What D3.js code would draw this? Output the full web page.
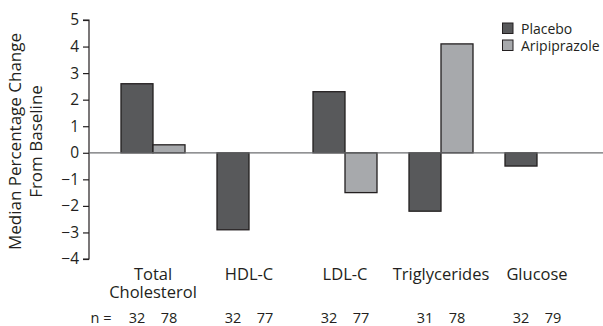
<!DOCTYPE html>
<html><head><meta charset="utf-8">
<script src="https://cdn.jsdelivr.net/npm/d3@7"></script>
<style>body{margin:0;background:#fff}svg{display:block}text{font-family:"Open Sans",sans-serif;fill:#231f20}</style>
</head><body><svg id="c" width="603" height="326"></svg>
<script>
const categories = ["Total\nCholesterol", "HDL-C", "LDL-C", "Triglycerides", "Glucose"];
const seriesNames = ["Placebo", "Aripiprazole"];
const placebo = [2.6, -2.9, 2.3, -2.2, -0.5];
const aripiprazole = [0.3, 0, -1.5, 4.1, 0];
const nPlacebo = [32, 32, 32, 31, 32];
const nAripiprazole = [78, 77, 77, 78, 79];
const yTicks = [5, 4, 3, 2, 1, 0, -1, -2, -3, -4];
const colors = ["#58595b", "#a7a9ac"];

const svg = d3.select("#c");
const y = d3.scaleLinear().domain([-4, 5]).range([259, 20]);
const x0 = d3.scaleBand().domain(categories).range([105, 585]).paddingInner(1/3).paddingOuter(1/6);
const x1 = d3.scaleBand().domain(seriesNames).range([0, x0.bandwidth()]);
const series = [placebo, aripiprazole];

// axis
const yAxis = d3.axisLeft(y).tickValues(yTicks).tickSize(6).tickPadding(4)
  .tickFormat(d => d < 0 ? "\u2212" + Math.abs(d) : d);
const ga = svg.append("g").attr("transform", "translate(89,0)").call(yAxis);
ga.select(".domain").attr("d", `M-6,${y(5)}H0V${y(-4)}H-6`).attr("stroke", "#231f20").attr("stroke-width", 1.2);
ga.selectAll(".tick line").attr("stroke", "#231f20").attr("stroke-width", 1.2);
ga.selectAll(".tick text").style("font-size", "15.5px").attr("fill", "#231f20").style("font-family", "'Open Sans',sans-serif");

// bars
categories.forEach((c, i) => {
  series.forEach((s, j) => {
    const v = s[i];
    if (v === 0) return;
    svg.append("rect")
      .attr("x", x0(c) + x1(seriesNames[j]))
      .attr("width", x1.bandwidth())
      .attr("y", y(Math.max(0, v)))
      .attr("height", Math.abs(y(v) - y(0)))
      .attr("fill", colors[j]).attr("stroke", "#231f20").attr("stroke-width", 1.3);
  });
});

// zero line
svg.append("line").attr("x1", 89).attr("x2", 603).attr("y1", y(0)).attr("y2", y(0))
  .attr("stroke", "#6d6e71").attr("stroke-width", 1.3);

// category labels
categories.forEach((c, i) => {
  const cx = x0(c) + x0.bandwidth() / 2;
  c.split("\n").forEach((l, k) => {
    svg.append("text").attr("text-anchor", "middle").style("font-size", "16.5px")
      .attr("x", cx).attr("y", 280 + k * 18).text(l);
  });
  svg.append("text").attr("text-anchor", "middle").style("font-size", "14.5px")
    .attr("x", x0(c) + x1(seriesNames[0]) + x1.bandwidth() / 2).attr("y", 323).text(nPlacebo[i]);
  svg.append("text").attr("text-anchor", "middle").style("font-size", "14.5px")
    .attr("x", x0(c) + x1(seriesNames[1]) + x1.bandwidth() / 2).attr("y", 323).text(nAripiprazole[i]);
});
svg.append("text").attr("text-anchor", "middle").style("font-size", "14.5px").attr("x", 101).attr("y", 323).text("n =");

// y title
const tcy = (y(5) + y(-4)) / 2 + 2;
svg.append("text").attr("text-anchor", "middle").style("font-size", "17px")
  .attr("transform", `translate(21,${tcy}) rotate(-90)`).text("Median Percentage Change");
svg.append("text").attr("text-anchor", "middle").style("font-size", "17px")
  .attr("transform", `translate(42,${tcy}) rotate(-90)`).text("From Baseline");

// legend
seriesNames.forEach((n, j) => {
  svg.append("rect").attr("x", 502.5).attr("y", 23 + j * 17).attr("width", 10.5).attr("height", 10.5)
    .attr("fill", colors[j]).attr("stroke", "#231f20").attr("stroke-width", 1);
  svg.append("text").attr("x", 521).attr("y", 34 + j * 17).style("font-size", "14px").text(n);
});
</script></body></html>
